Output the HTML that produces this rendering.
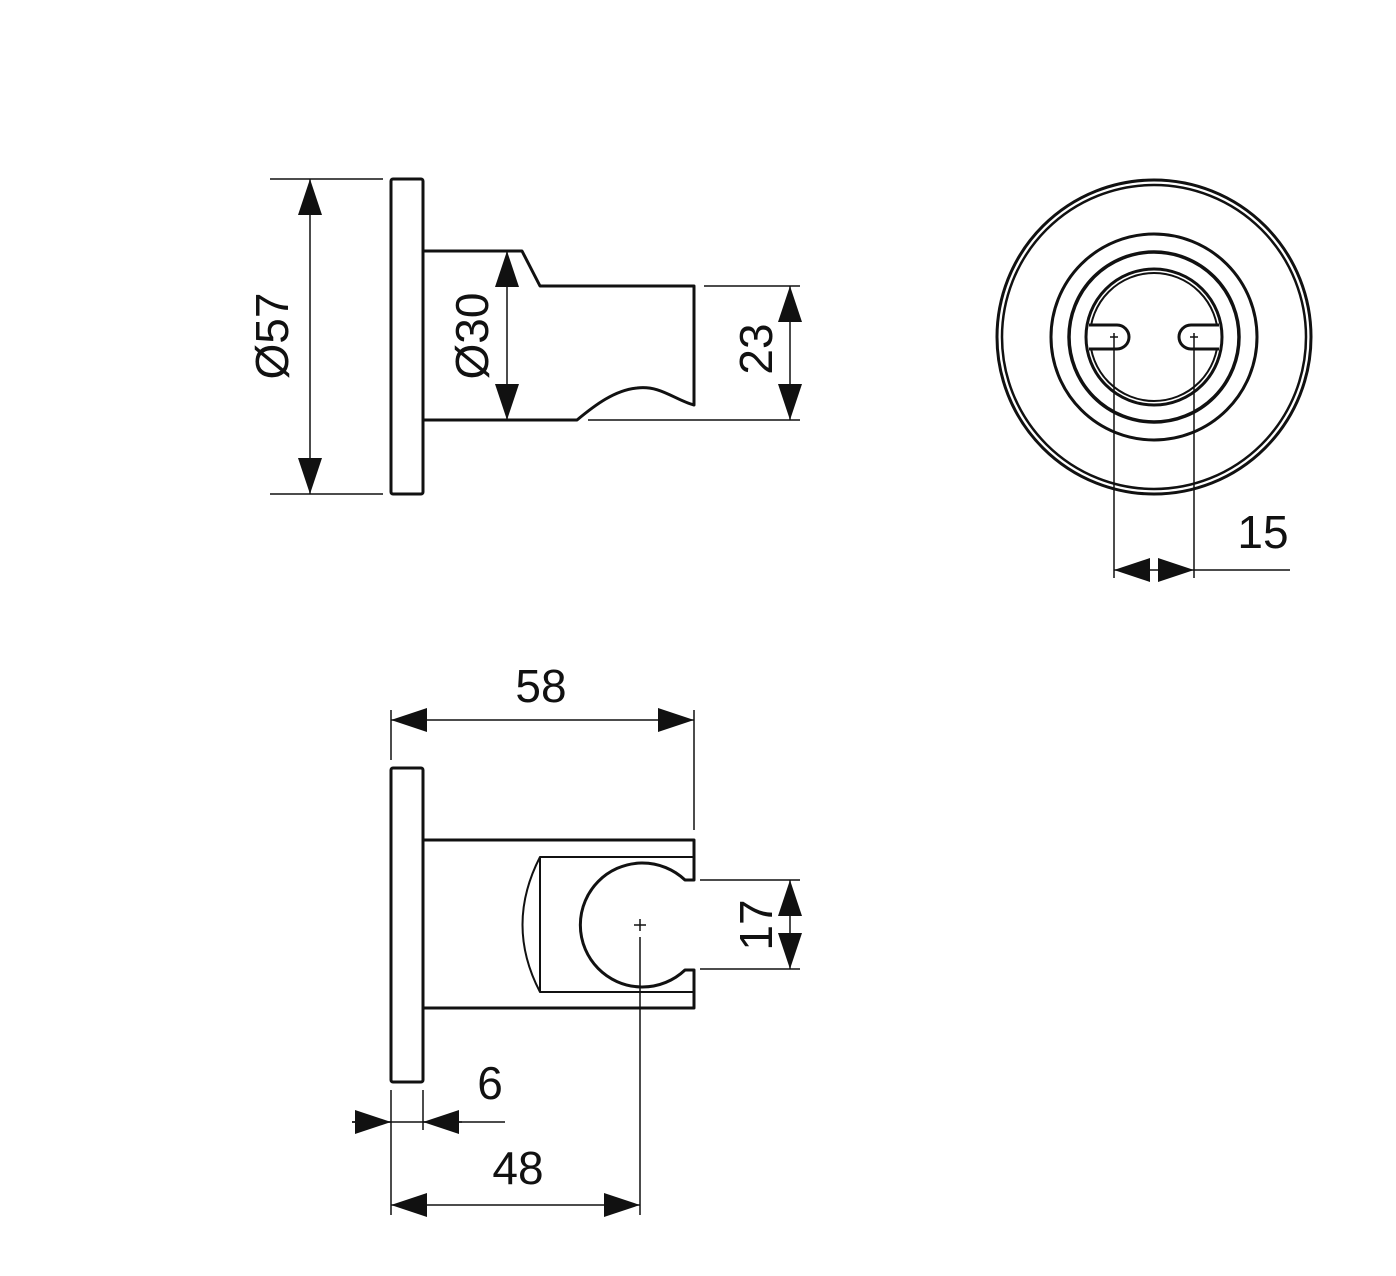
<!DOCTYPE html>
<html><head><style>html,body{margin:0;padding:0;background:#fff}svg{display:block}</style></head><body>
<svg width="1396" height="1276" viewBox="0 0 1396 1276" xmlns="http://www.w3.org/2000/svg">
<defs>
<marker id="a" viewBox="0 0 36 24" refX="36" refY="12" markerWidth="36" markerHeight="24" markerUnits="userSpaceOnUse" orient="auto"><path d="M0,0 L36,12 L0,24Z" fill="#111"/></marker>
</defs>
<g fill="none" stroke="#111" stroke-width="3" stroke-linejoin="round">
<!-- top-left view -->
<rect x="391" y="179" width="32" height="315" rx="2"/>
<path d="M423,251 H522 L540,286 H694 V405 C675,400 660,385 637,388 C615,390 595,405 577,420 H423"/>
<!-- bottom view -->
<rect x="391" y="768" width="32" height="314" rx="2"/>
<path d="M423,840 H694 V880 H685 A62,62 0 1 0 685,970 H694 V1008 H423"/>
<path d="M694,857 H540 V992 H694" stroke-width="2"/>
<path d="M540,857 Q505,925 540,992" stroke-width="2"/>
</g>
<g fill="none" stroke="#111">
<!-- circle view -->
<circle cx="1154" cy="337" r="157" stroke-width="3"/>
<circle cx="1154" cy="337" r="152" stroke-width="2.5"/>
<circle cx="1154" cy="337" r="103" stroke-width="3"/>
<circle cx="1154" cy="337" r="85" stroke-width="3.5"/>
<circle cx="1154" cy="337" r="68" stroke-width="3"/>
<circle cx="1154" cy="337" r="64" stroke-width="2"/>
<path d="M1089,325 H1117 A12,12 0 0 1 1117,349 H1089" stroke-width="3" fill="#fff"/>
<path d="M1219,325 H1191 A12,12 0 0 0 1191,349 H1219" stroke-width="3" fill="#fff"/>
</g>
<g stroke="#111" stroke-width="1.5" fill="none">
<path d="M1110,337h8M1114,333v8M1190,337h8M1194,333v8"/>
<path d="M1114,341V578M1194,341V578M1194,570H1290"/>
<line x1="1154" y1="570" x2="1114" y2="570" marker-end="url(#a)"/>
<line x1="1154" y1="570" x2="1194" y2="570" marker-end="url(#a)"/>
<!-- Ø57 -->
<path d="M270,179H383M270,494H383"/>
<line x1="310" y1="336" x2="310" y2="179" marker-end="url(#a)"/>
<line x1="310" y1="336" x2="310" y2="494" marker-end="url(#a)"/>
<!-- Ø30 -->
<line x1="507" y1="336" x2="507" y2="251" marker-end="url(#a)"/>
<line x1="507" y1="336" x2="507" y2="420" marker-end="url(#a)"/>
<!-- 23 -->
<path d="M704,286H800M588,420H800"/>
<line x1="790" y1="353" x2="790" y2="286" marker-end="url(#a)"/>
<line x1="790" y1="353" x2="790" y2="420" marker-end="url(#a)"/>
<!-- 58 -->
<path d="M391,710V760M694,710V830"/>
<line x1="542" y1="720" x2="391" y2="720" marker-end="url(#a)"/>
<line x1="542" y1="720" x2="694" y2="720" marker-end="url(#a)"/>
<!-- 17 -->
<path d="M700,880H800M700,969H800"/>
<line x1="790" y1="925" x2="790" y2="880" marker-end="url(#a)"/>
<line x1="790" y1="925" x2="790" y2="969" marker-end="url(#a)"/>
<!-- centre -->
<path d="M634,925h12M640,919v12M640,937V1215"/>
<!-- 6 -->
<path d="M391,1090V1215M423,1090V1130M352,1122H505"/>
<line x1="352" y1="1122" x2="391" y2="1122" marker-end="url(#a)"/>
<line x1="462" y1="1122" x2="423" y2="1122" marker-end="url(#a)"/>
<!-- 48 -->
<line x1="515" y1="1205" x2="391" y2="1205" marker-end="url(#a)"/>
<line x1="515" y1="1205" x2="640" y2="1205" marker-end="url(#a)"/>
</g>
<g font-family="Liberation Sans, sans-serif" font-size="46" fill="#111" text-anchor="middle">
<text transform="translate(288,336) rotate(-90)">Ø57</text>
<text transform="translate(488,336) rotate(-90)">Ø30</text>
<text transform="translate(772,349) rotate(-90)">23</text>
<text transform="translate(772,925) rotate(-90)">17</text>
<text x="1263" y="548">15</text>
<text x="541" y="702">58</text>
<text x="490" y="1099">6</text>
<text x="518" y="1184">48</text>
</g>
</svg>
</body></html>
